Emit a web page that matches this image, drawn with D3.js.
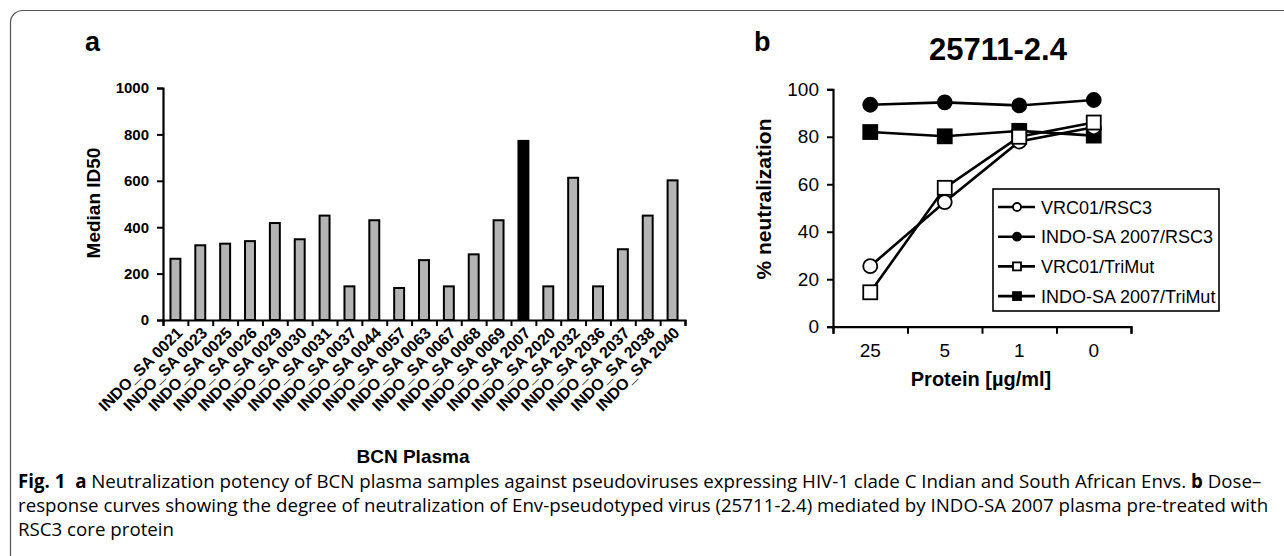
<!DOCTYPE html>
<html>
<head>
<meta charset="utf-8">
<script src="https://cdn.jsdelivr.net/npm/d3@7"></script>
<style>
body { margin: 0; background: #fff; }
svg { display: block; }
text { font-family: "Liberation Sans", Arial, sans-serif; fill: #000; }
</style>
</head>
<body>
<svg id="fig" width="1284" height="556"></svg>
<script>
// panel a: median ID50 per BCN plasma sample
var samples = ["INDO_SA 0021", "INDO_SA 0023", "INDO_SA 0025", "INDO_SA 0026", "INDO_SA 0029",
  "INDO_SA 0030", "INDO_SA 0031", "INDO_SA 0037", "INDO_SA 0044", "INDO_SA 0057",
  "INDO_SA 0063", "INDO_SA 0067", "INDO_SA 0068", "INDO_SA 0069", "INDO_SA 2007",
  "INDO_SA 2020", "INDO_SA 2032", "INDO_SA 2036", "INDO_SA 2037", "INDO_SA 2038", "INDO_SA 2040"];
var medianID50 = [264, 322, 329, 340, 418, 348, 450, 145, 430, 138, 258, 145, 283, 430, 772,
  145, 613, 145, 305, 450, 602];
var highlighted = "INDO_SA 2007";
var id50Ticks = [0, 200, 400, 600, 800, 1000];

// panel b: dose response, 25711-2.4
var doses = ["25", "5", "1", "0"];
var vrc01RSC3 = [25.5, 52.5, 78, 84];
var indoRSC3 = [93.5, 94.5, 93.2, 95.5];
var vrc01TriMut = [14.5, 58.5, 80, 86];
var indoTriMut = [82, 80.2, 82.5, 80.5];
var seriesNames = ["VRC01/RSC3", "INDO-SA 2007/RSC3", "VRC01/TriMut", "INDO-SA 2007/TriMut"];
var neutTicks = [0, 20, 40, 60, 80, 100];

var svg = d3.select("#fig");

// frame round the figure
svg.append("rect")
    .attr("x", 10.5).attr("y", 10.5)
    .attr("width", 1320).attr("height", 600)
    .attr("rx", 12)
    .attr("fill", "none")
    .attr("stroke", "#555")
    .attr("stroke-width", 1.2);

// ---------- panel a ----------
var ax0 = 163, ax1 = 685, ay0 = 320, ay1 = 88;
var xa = d3.scaleBand().domain(samples).range([ax0, ax1]).paddingInner(0.6).paddingOuter(0.3);
var xaTicks = d3.scaleLinear().domain([0, samples.length]).range([ax0, ax1]);
var ya = d3.scaleLinear().domain([0, 1000]).range([ay0, ay1]);

svg.append("text").attr("x", 85).attr("y", 51)
    .attr("font-size", 27).attr("font-weight", "bold").text("a");

svg.selectAll("rect.bar")
    .data(medianID50)
    .enter().append("rect")
      .attr("class", "bar")
      .attr("x", function(d, i) { return xa(samples[i]); })
      .attr("width", xa.bandwidth())
      .attr("y", function(d) { return ya(d); })
      .attr("height", function(d) { return ay0 - ya(d); })
      .attr("fill", function(d, i) { return samples[i] === highlighted ? "#000" : "#b4b4b4"; })
      .attr("stroke", "#000")
      .attr("stroke-width", 2);

var yAxisA = svg.append("g")
    .attr("transform", "translate(" + ax0 + ",0)")
    .call(d3.axisLeft(ya).tickValues(id50Ticks).tickSize(6).tickPadding(8).tickFormat(d3.format("d")));
yAxisA.select(".domain").attr("stroke-width", 2.2);
yAxisA.selectAll(".tick line").attr("stroke-width", 2);
yAxisA.selectAll(".tick text")
    .attr("font-size", 15).attr("font-weight", "bold")
    .style("font-family", "'Liberation Sans', Arial, sans-serif").attr("fill", "#000");

var xAxisA = svg.append("g")
    .attr("transform", "translate(0," + ay0 + ")")
    .call(d3.axisBottom(xaTicks).tickValues(d3.range(samples.length + 1)).tickSize(6).tickFormat(""));
xAxisA.select(".domain").attr("stroke-width", 2.2);
xAxisA.selectAll(".tick line").attr("stroke-width", 2);

svg.selectAll("text.sample")
    .data(samples)
    .enter().append("text")
      .attr("class", "sample")
      .attr("font-size", 16).attr("font-weight", "bold")
      .attr("text-anchor", "end")
      .attr("transform", function(d) {
        return "translate(" + (xa(d) + xa.bandwidth() / 2 + 8) + "," + (ay0 + 14) + ") rotate(-45)";
      })
      .text(function(d) { return d; });

svg.append("text")
    .attr("transform", "translate(100,203) rotate(-90)")
    .attr("text-anchor", "middle")
    .attr("font-size", 19).attr("font-weight", "bold")
    .text("Median ID50");

svg.append("text")
    .attr("x", 413).attr("y", 463)
    .attr("text-anchor", "middle")
    .attr("font-size", 19).attr("font-weight", "bold")
    .text("BCN Plasma");

// ---------- panel b ----------
var bx0 = 833, bx1 = 1131, by0 = 326.7, by1 = 89.3;
var xb = d3.scaleBand().domain(doses).range([bx0, bx1]);
var xbTicks = d3.scaleLinear().domain([0, doses.length]).range([bx0, bx1]);
var yb = d3.scaleLinear().domain([0, 100]).range([by0, by1]);
function cx(i) { return xb(doses[i]) + xb.bandwidth() / 2; }

svg.append("text").attr("x", 754).attr("y", 51)
    .attr("font-size", 27).attr("font-weight", "bold").text("b");

svg.append("text")
    .attr("x", 998).attr("y", 60)
    .attr("text-anchor", "middle")
    .attr("font-size", 31).attr("font-weight", "bold")
    .text("25711-2.4");

var yAxisB = svg.append("g")
    .attr("transform", "translate(" + bx0 + ",0)")
    .call(d3.axisLeft(yb).tickValues(neutTicks).tickSize(6).tickPadding(8));
yAxisB.select(".domain").attr("stroke-width", 2.2);
yAxisB.selectAll(".tick line").attr("stroke-width", 2);
yAxisB.selectAll(".tick text")
    .attr("font-size", 19)
    .style("font-family", "'Liberation Sans', Arial, sans-serif").attr("fill", "#000");

var xAxisB = svg.append("g")
    .attr("transform", "translate(0," + by0 + ")")
    .call(d3.axisBottom(xbTicks).tickValues(d3.range(doses.length + 1)).tickSize(7).tickFormat(""));
xAxisB.select(".domain").attr("stroke-width", 2.2);
xAxisB.selectAll(".tick line").attr("stroke-width", 2);

svg.selectAll("text.dose")
    .data(doses)
    .enter().append("text")
      .attr("class", "dose")
      .attr("x", function(d, i) { return cx(i); })
      .attr("y", by0 + 30)
      .attr("text-anchor", "middle")
      .attr("font-size", 19)
      .text(function(d) { return d; });

svg.append("text")
    .attr("transform", "translate(771,199) rotate(-90)")
    .attr("text-anchor", "middle")
    .attr("font-size", 21).attr("font-weight", "bold")
    .text("% neutralization");

svg.append("text")
    .attr("x", 981).attr("y", 386)
    .attr("text-anchor", "middle")
    .attr("font-size", 20).attr("font-weight", "bold")
    .text("Protein [\u00b5g/ml]");

var series = [
  { name: seriesNames[1], values: indoRSC3, shape: "circle", fill: "#000" },
  { name: seriesNames[3], values: indoTriMut, shape: "square", fill: "#000" },
  { name: seriesNames[0], values: vrc01RSC3, shape: "circle", fill: "#fff" },
  { name: seriesNames[2], values: vrc01TriMut, shape: "square", fill: "#fff" }
];

var line = d3.line()
    .x(function(d, i) { return cx(i); })
    .y(function(d) { return yb(d); });

function drawMarker(g, shape, fill, x, y, size) {
  if (shape === "circle") {
    g.append("circle").attr("cx", x).attr("cy", y).attr("r", size / 2)
        .attr("fill", fill).attr("stroke", "#000").attr("stroke-width", 1.8);
  } else {
    g.append("rect").attr("x", x - size / 2).attr("y", y - size / 2)
        .attr("width", size).attr("height", size)
        .attr("fill", fill).attr("stroke", "#000").attr("stroke-width", 1.8);
  }
}

series.forEach(function(s) {
  var g = svg.append("g");
  g.append("path").attr("d", line(s.values))
      .attr("fill", "none").attr("stroke", "#000").attr("stroke-width", 2.6);
  s.values.forEach(function(v, i) {
    drawMarker(g, s.shape, s.fill, cx(i), yb(v), 14);
  });
});

// legend
var legend = svg.append("g").attr("transform", "translate(993,189)");
legend.append("rect").attr("width", 226).attr("height", 122)
    .attr("fill", "#fff").attr("stroke", "#000").attr("stroke-width", 1.6);
var legendShapes = [["circle", "#fff"], ["circle", "#000"], ["square", "#fff"], ["square", "#000"]];
seriesNames.forEach(function(name, i) {
  var y = 18 + i * 29.7;
  var g = legend.append("g");
  g.append("line").attr("x1", 5).attr("x2", 42).attr("y1", y).attr("y2", y)
      .attr("stroke", "#000").attr("stroke-width", 2.6);
  drawMarker(g, legendShapes[i][0], legendShapes[i][1], 24, y, 8);
  g.append("text").attr("x", 48).attr("y", y + 6.5)
      .attr("font-size", 18).text(name);
});

// caption: one horizontal squeeze for all lines, set by the first line's width
var caption = svg.append("g").attr("font-size", 19);
var capLines = [
  { y: 488, parts: [["Fig. 1", true], ["  ", false], ["a", true],
      [" Neutralization potency of BCN plasma samples against pseudoviruses expressing HIV-1 clade C Indian and South African Envs. ", false],
      ["b", true], [" Dose\u2013", false]] },
  { y: 512, parts: [["response curves showing the degree of neutralization of Env-pseudotyped virus (25711-2.4) mediated by INDO-SA 2007 plasma pre-treated with", false]] },
  { y: 536, parts: [["RSC3 core protein", false]] }
];
var capTexts = capLines.map(function(l) {
  var t = caption.append("text")
      .style("font-family", "'Open Sans', 'Noto Sans', sans-serif")
      .attr("xml:space", "preserve");
  l.parts.forEach(function(p) {
    t.append("tspan").attr("font-weight", p[1] ? "bold" : "normal").text(p[0]);
  });
  return t;
});
var squeeze = 1244 / capTexts[0].node().getComputedTextLength();
capTexts.forEach(function(t, i) {
  t.attr("transform", "translate(18," + capLines[i].y + ") scale(" + squeeze + ",1)");
});
</script>
</body>
</html>
